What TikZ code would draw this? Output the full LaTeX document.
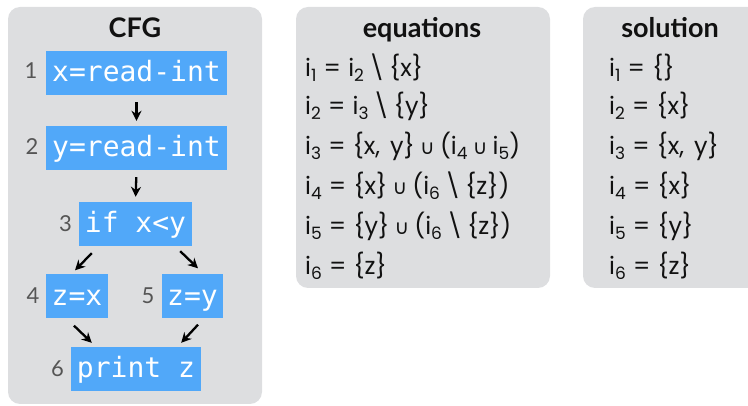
\documentclass[tikz,border=0pt]{standalone}
\usepackage{fontspec}
\setmainfont{Poppins}
\setmonofont{DejaVu Sans Mono}
\newfontfamily\djv{DejaVu Sans}
\newfontfamily\latofont{Lato}
\usetikzlibrary{arrows.meta,calc}
\definecolor{panel}{HTML}{DDDEE0}
\definecolor{boxblue}{HTML}{51A8F9}
\definecolor{numgray}{HTML}{555555}
\definecolor{ink}{HTML}{111111}
\newcommand\isub[1]{\raisebox{-0.17em}{\fontsize{17}{17}\selectfont #1}}
\newcommand\cupx{\hspace{0.22em}{\djv\fontsize{20}{20}\selectfont ∪}\hspace{0.22em}}
\newcommand\smin{\hspace{0.2em}\textbackslash\hspace{0.2em}}
\newcommand\eqs{\hspace{0.3em}=\hspace{0.3em}}
\tikzset{
 panelbox/.style={fill=panel, rounded corners=12pt},
 code/.style={fill=boxblue, text=white, font=\ttfamily\fontsize{28}{28}\selectfont, inner sep=0pt, minimum height=44pt, text height=22pt, text depth=4pt},
 num/.style={text=numgray, font=\latofont\fontsize{22}{22}\selectfont, inner sep=0pt, anchor=base},
 title/.style={font=\latofont\bfseries\fontsize{27}{27}\selectfont, inner sep=0pt, anchor=base, text=ink},
 eq/.style={font=\fontsize{24}{24}\selectfont, anchor=base west, inner sep=0pt, text=ink},
 arr/.style={-{Stealth[length=10pt,width=10pt]}, line width=2.3pt, black},
}
\begin{document}
\begin{tikzpicture}[x=1pt,y=-1pt]
\useasboundingbox (0,0) rectangle (748,406);
\clip (0,0) rectangle (748,406);
% panels
\fill[panelbox] (8,7) rectangle (262,404);
\fill[panelbox] (296,7) rectangle (550,288);
\fill[panelbox] (583,7) rectangle (775,288);
% titles
\node[title] (tcfg) at (135,38) {CFG};
\node[title] (teq) at (422,38) {equations};
\node[title] (tsol) at (670,38) {solution};
% CFG boxes
\node[code, minimum width=181pt] (b1) at (136.5,73) {x=read-int};
\node[code, minimum width=181pt] (b2) at (136.5,148) {y=read-int};
\node[code, minimum width=113pt] (b3) at (135.5,224) {if x<y};
\node[code, minimum width=62pt] (b4) at (77,296.5) {z=x};
\node[code, minimum width=61pt] (b5) at (192.5,296.5) {z=y};
\node[code, minimum width=130pt] (b6) at (136,369) {print z};
% numbers
\node[num] (n1) at (31,79) {1};
\node[num] (n2) at (32,155) {2};
\node[num] (n3) at (65.5,232) {3};
\node[num] (n4) at (33,304) {4};
\node[num] (n5) at (148,304) {5};
\node[num] (n6) at (57.5,377) {6};
% arrows
\draw[arr, shorten <=7pt, shorten >=5pt] (b1.south) -- (b2.north);
\draw[arr, shorten <=7pt, shorten >=5pt] (b2.south) -- (b3.north);
\draw[arr] ($(b3.south west)+(13,7)$) -- ($(b4.north)+(-2,-4)$);
\draw[arr] ($(b3.south east)+(-12,5)$) -- ($(b5.north)+(5.5,-6)$);
\draw[arr] ($(b4.south)+(-3,7)$) -- ($(b6.north west)+(21,-4)$);
\draw[arr] ($(b5.south)+(5.5,6)$) -- ($(b6.north east)+(-20,-4)$);
% equations
\node[eq] (e1) at (305,77) {i\isub{1}\eqs i\isub{2}\smin\{x\}};
\node[eq] (e2) at (305,115) {i\isub{2}\eqs i\isub{3}\smin\{y\}};
\node[eq] (e3) at (305,155) {i\isub{3}\eqs\{x,\hspace{0.15em} y\}\cupx(i\isub{4}\cupx i\isub{5})};
\node[eq] (e4) at (305,195) {i\isub{4}\eqs\{x\}\cupx(i\isub{6}\smin\{z\})};
\node[eq] (e5) at (305,235) {i\isub{5}\eqs\{y\}\cupx(i\isub{6}\smin\{z\})};
\node[eq] (e6) at (305,275) {i\isub{6}\eqs\{z\}};
% solution
\node[eq] (s1) at (609,77) {i\isub{1}\eqs\{\}};
\node[eq] (s2) at (609,115) {i\isub{2}\eqs\{x\}};
\node[eq] (s3) at (609,155) {i\isub{3}\eqs\{x,\hspace{0.15em} y\}};
\node[eq] (s4) at (609,195) {i\isub{4}\eqs\{x\}};
\node[eq] (s5) at (609,235) {i\isub{5}\eqs\{y\}};
\node[eq] (s6) at (609,275) {i\isub{6}\eqs\{z\}};
\end{tikzpicture}
\end{document}
